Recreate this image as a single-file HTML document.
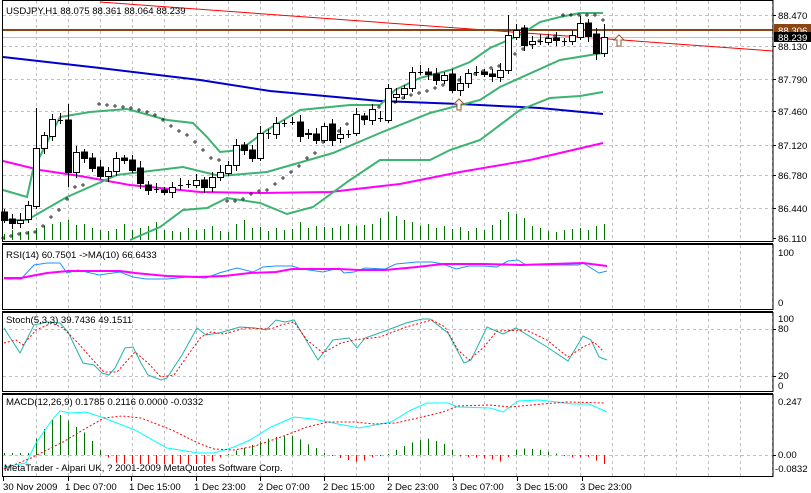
<!DOCTYPE html>
<html><head><meta charset="utf-8"><style>
body{margin:0;background:#fff;width:811px;height:493px;overflow:hidden}
svg{display:block;font-family:"Liberation Sans",sans-serif;font-size:9.6px}
</style></head><body>
<svg id="s" width="811" height="493" xmlns="http://www.w3.org/2000/svg">
<rect width="811" height="493" fill="#fff"/>
<g id="grid" stroke="#c0c0c0" stroke-dasharray="3,3" stroke-width="1"></g>
<g id="plot"></g>
<g fill="none" stroke="#000" stroke-width="1">
<rect x="2.5" y="0.5" width="770.5" height="241"/>
<line x1="2" y1="243.5" x2="773" y2="243.5"/>
<rect x="2.5" y="244.5" width="770.5" height="65"/>
<line x1="2" y1="311.5" x2="773" y2="311.5"/>
<rect x="2.5" y="312.5" width="770.5" height="79"/>
<line x1="2" y1="393.5" x2="773" y2="393.5"/>
<rect x="2.5" y="394.5" width="770.5" height="82"/>
</g>
<g fill="#000">
<text x="6" y="14">USDJPY,H1  88.075 88.361 88.064 88.239</text>
<text x="6" y="258">RSI(14) 60.7501  -&gt;MA(10) 66.6433</text>
<text x="6" y="323">Stoch(5,3,3) 39.7436 49.1511</text>
<text x="6" y="405">MACD(12,26,9) 0.1785 0.2116 0.0000 -0.0332</text>
<text x="4" y="471">MetaTrader - Alpari UK, ? 2001-2009 MetaQuotes Software Corp.</text>
<text x="778" y="19">88.470</text>
<text x="778" y="50">88.130</text>
<text x="778" y="83">87.790</text>
<text x="778" y="115">87.460</text>
<text x="778" y="149">87.120</text>
<text x="778" y="179">86.780</text>
<text x="778" y="212">86.440</text>
<text x="778" y="242">86.110</text>
<text x="778" y="256">100</text>
<text x="778" y="306">0</text>
<text x="778" y="322">100</text>
<text x="778" y="332">80</text>
<text x="778" y="379">20</text>
<text x="778" y="389">0</text>
<text x="778" y="405">0.247</text>
<text x="778" y="458">0.00</text>
<text x="775" y="472">-0.0832</text>
<text x="3" y="490">30 Nov 2009</text>
<text x="65" y="490">1 Dec 07:00</text>
<text x="129" y="490">1 Dec 15:00</text>
<text x="194" y="490">1 Dec 23:00</text>
<text x="258" y="490">2 Dec 07:00</text>
<text x="323" y="490">2 Dec 15:00</text>
<text x="387" y="490">2 Dec 23:00</text>
<text x="452" y="490">3 Dec 07:00</text>
<text x="516" y="490">3 Dec 15:00</text>
<text x="580" y="490">3 Dec 23:00</text>
</g>
<rect x="774" y="24" width="37" height="12" fill="#8b4513"/>
<text x="778" y="34" fill="#fff">88.306</text>
<rect x="774" y="32" width="37" height="10" fill="#000"/>
<text x="778" y="41" fill="#fff">88.239</text>
</svg>
<script>
var S=document.getElementById('s'),P=document.getElementById('plot'),G=document.getElementById('grid');
function el(t,a,p){var e=document.createElementNS('http://www.w3.org/2000/svg',t);for(var k in a)e.setAttribute(k,a[k]);(p||P).appendChild(e);return e;}
function pl(pts,c,w,d){var s=pts.map(function(p){return p[0]+','+p[1]}).join(' ');var a={points:s,fill:'none',stroke:c,'stroke-width':w||1};if(d)a['stroke-dasharray']=d;el('polyline',a);}
for(var x=36;x<773;x+=32){[[1,241],[245,309],[313,391],[395,476]].forEach(function(r){el('line',{x1:x+.5,y1:r[0],x2:x+.5,y2:r[1]},G)});}
[15,46,79,111,145,175,208].forEach(function(y){el('line',{x1:3,y1:y+.5,x2:773,y2:y+.5},G)});
[329,376,455].forEach(function(y){el('line',{x1:3,y1:y+.5,x2:773,y2:y+.5},G)});
var vh=[6,10,8,9,12,14,16,18,20,15,16,12,10,9,11,16,10,12,14,18,10,9,8,12,10,11,14,9,8,16,20,12,13,9,12,10,11,18,12,14,13,12,14,16,14,15,16,22,28,24,20,18,14,16,12,14,11,13,9,12,10,15,20,28,26,22,14,12,9,8,10,11,12,10,14,16];
for(var i=0;i<76;i++){var x=4+8*i+.5;el('line',{x1:x,y1:240,x2:x,y2:240-vh[i],stroke:'#007000'});}
pl([[100,2],[773,51]],'#ff0000',1);
el('line',{x1:3,y1:37.5,x2:773,y2:37.5,stroke:'#c0c0c0'});
el('line',{x1:3,y1:30,x2:773,y2:30,stroke:'#8b4513','stroke-width':2});
pl([[3,57],[100,68],[200,80],[270,91],[380,101],[460,104],[540,108],[603,114]],'#0000c8',2);
pl([[3,161],[40,170],[80,176],[130,185],[200,192],[260,193],[330,192],[400,184],[460,172],[530,160],[603,143]],'#ff00ff',2);
pl([[3,190],[27,197],[33,170],[60,117],[90,112],[127,109],[167,120],[193,123],[207,137],[220,152],[240,150],[267,130],[300,110],[350,105],[380,105],[395,90],[420,78],[450,70],[470,62],[490,48],[520,35],[540,22],[560,17],[580,13],[603,13]],'#3cb371',2);
pl([[3,220],[27,220],[67,197],[117,175],[183,167],[220,176],[267,172],[333,153],[380,133],[430,113],[480,100],[500,87],[560,60],[603,53]],'#3cb371',2);
pl([[130,240],[160,227],[183,210],[207,208],[227,198],[260,203],[287,214],[313,207],[350,180],[380,160],[430,160],[450,150],[480,140],[520,110],[550,98],[580,96],[603,92]],'#3cb371',2);
var sar=[[3,238],[11,236],[19,234],[27,233],[35,232],[43,226],[51,217],[59,210],[67,199],[75,187],[83,185],[99,104],[107,105],[115,106],[123,107],[131,108],[139,110],[147,112],[155,115],[163,120],[171,126],[179,131],[187,135],[195,142],[203,150],[211,158],[219,160],[227,201],[235,201],[243,199],[251,194],[259,191],[267,190],[275,184],[283,178],[291,172],[299,166],[307,158],[315,153],[323,142],[331,135],[339,131],[347,124],[355,122],[363,119],[371,112],[379,107],[387,103],[395,102],[403,98],[411,95],[419,93],[427,91],[435,88],[443,85],[451,82],[459,80],[467,77],[475,74],[483,71],[491,68],[499,66],[507,59],[515,54],[523,49],[531,44],[539,41],[547,38],[555,36],[563,15],[571,15],[579,15],[587,15],[595,15],[603,20]];
sar.forEach(function(p){el('rect',{x:p[0]-1,y:p[1]-1,width:2,height:2,fill:'none',stroke:'#000','stroke-width':0.7,transform:'rotate(45 '+p[0]+' '+p[1]+')'})});
var cd=[[212,220],[219,223],[223,220],[219,205],[206,148],[148,135],[136,119],[120,120],[120,172],[172,152],[152,158],[158,168],[167,176],[176,171],[171,158],[158,160],[160,170],[168,183],[185,190],[189,189],[190,192],[192,187],[185,185],[184,184],[185,180],[180,187],[187,177],[177,172],[173,165],[165,145],[145,150],[150,158],[158,133],[133,133],[134,123],[123,123],[122,122],[122,136],[134,133],[134,140],[140,126],[124,140],[138,134],[134,134],[133,114],[116,119],[120,109],[118,118],[120,88],[97,94],[94,88],[88,72],[72,72],[72,74],[74,80],[80,75],[74,90],[90,83],[83,73],[72,72],[72,74],[74,76],[77,70],[70,35],[37,30],[28,45],[44,41],[41,41],[42,38],[38,40],[41,41],[41,35],[37,23],[23,36],[34,53],[53,37]];
cd.forEach(function(c,i){var x=4+8*i,o=c[0],cl=c[1],t=Math.min(o,cl),b=Math.max(o,cl);var hi=t-3-(i*7%5),lo=b+3+(i*3%4);
if(i==4)hi=108;if(i==8){hi=104;lo=187;}if(i==63)hi=15;if(i==74)lo=60;if(i==75)hi=24;
el('line',{x1:x+.5,y1:hi,x2:x+.5,y2:lo,stroke:'#000'});
if(b-t<1){el('line',{x1:x-2,y1:t+.5,x2:x+3,y2:t+.5,stroke:'#000'});}
else if(o>cl)el('rect',{x:x-2.5,y:t+.5,width:6,height:b-t,fill:'#fff',stroke:'#000'});
else el('rect',{x:x-2.5,y:t,width:6,height:b-t+.5,fill:'#000',stroke:'#000'});});
function arr(x,y){el('polygon',{points:[x,y,x+5,y+5,x+2,y+5,x+2,y+11,x-2,y+11,x-2,y+5,x-5,y+5].join(' '),fill:'#fff',stroke:'#a0522d'});}
arr(619,35);arr(459,99);
pl([[4,279],[21,279],[34,265],[47,263],[60,263],[67,273],[78,270],[99,275],[120,272],[133,277],[146,279],[167,279],[188,277],[206,278],[219,273],[237,268],[253,272],[263,267],[276,266],[292,266],[302,269],[323,272],[339,268],[344,273],[354,272],[365,268],[385,269],[396,264],[417,262],[432,262],[443,264],[456,269],[469,266],[484,266],[497,267],[508,261],[518,260],[526,265],[542,265],[562,265],[578,265],[583,263],[599,273],[607,271]],'#1e90ff',1);
pl([[4,278],[21,278],[31,276],[47,273],[68,271],[120,271],[135,273],[156,275],[167,276],[198,277],[224,276],[250,273],[276,272],[292,269],[339,269],[359,270],[385,270],[417,267],[443,264],[484,264],[521,265],[552,264],[583,263],[607,266]],'#ff00ff',2);
pl([[4,328],[20,353],[34,325],[47,322],[60,323],[68,332],[83,363],[94,365],[102,373],[109,375],[115,368],[125,348],[133,347],[141,363],[148,375],[161,380],[167,378],[182,355],[197,328],[206,335],[219,333],[240,327],[255,328],[266,330],[276,320],[285,322],[294,320],[318,360],[333,340],[349,338],[357,348],[365,338],[385,331],[406,323],[422,319],[430,319],[448,333],[464,363],[471,360],[487,327],[503,334],[516,328],[547,347],[568,361],[583,336],[591,340],[599,357],[607,360]],'#20b2aa',1);
pl([[4,343],[16,340],[23,345],[36,330],[52,323],[63,328],[78,343],[91,358],[104,372],[117,372],[135,352],[148,363],[161,377],[174,375],[188,355],[201,337],[211,332],[224,334],[245,328],[271,329],[281,325],[294,322],[307,340],[323,353],[341,343],[354,340],[380,337],[406,327],[432,320],[445,327],[458,350],[469,360],[484,347],[497,331],[526,330],[547,340],[568,357],[583,347],[594,342],[604,352]],'#ff0000',1,'2,2');
var mc=[[4,467],[26,463],[36,443],[52,420],[60,411],[70,413],[86,412],[104,418],[135,430],[167,448],[198,453],[214,453],[234,447],[250,440],[271,427],[294,417],[313,419],[333,423],[359,428],[375,425],[391,422],[411,410],[427,403],[448,403],[458,407],[490,408],[503,412],[518,401],[539,400],[557,402],[573,404],[589,404],[607,412]];
var ms=[[4,469],[31,458],[47,450],[63,442],[83,430],[104,418],[122,416],[141,418],[172,430],[198,443],[214,449],[234,450],[255,446],[281,437],[307,427],[328,422],[354,422],[375,424],[396,423],[422,417],[443,412],[458,406],[490,405],[510,407],[542,404],[568,402],[604,403]];
function itp(a,x){for(var i=1;i<a.length;i++)if(x<=a[i][0]){var t=(x-a[i-1][0])/(a[i][0]-a[i-1][0]);return a[i-1][1]+t*(a[i][1]-a[i-1][1]);}return a[a.length-1][1];}
for(var i=0;i<76;i++){var x=4+8*i,d=(itp(ms,x)-itp(mc,x))*1.3;d=Math.max(-9,Math.min(40,d));if(i<4)d=2;
if(Math.abs(d)<1)d=d<0?-1:1;el('line',{x1:x+.5,y1:455,x2:x+.5,y2:455-d,stroke:d>0?'#007000':'#ff0000'});}
pl(mc,'#00ffff',1);pl(ms,'#ff0000',1,'2,2');
[15,46,79,111,145,175,208,238,329,376,455].forEach(function(y){el('line',{x1:773,y1:y+.5,x2:776,y2:y+.5,stroke:'#000'})});
[3,68,131,196,260,324,388,453,517,582].forEach(function(x){el('line',{x1:x+.5,y1:477,x2:x+.5,y2:481,stroke:'#000'})});
</script>
</body></html>
